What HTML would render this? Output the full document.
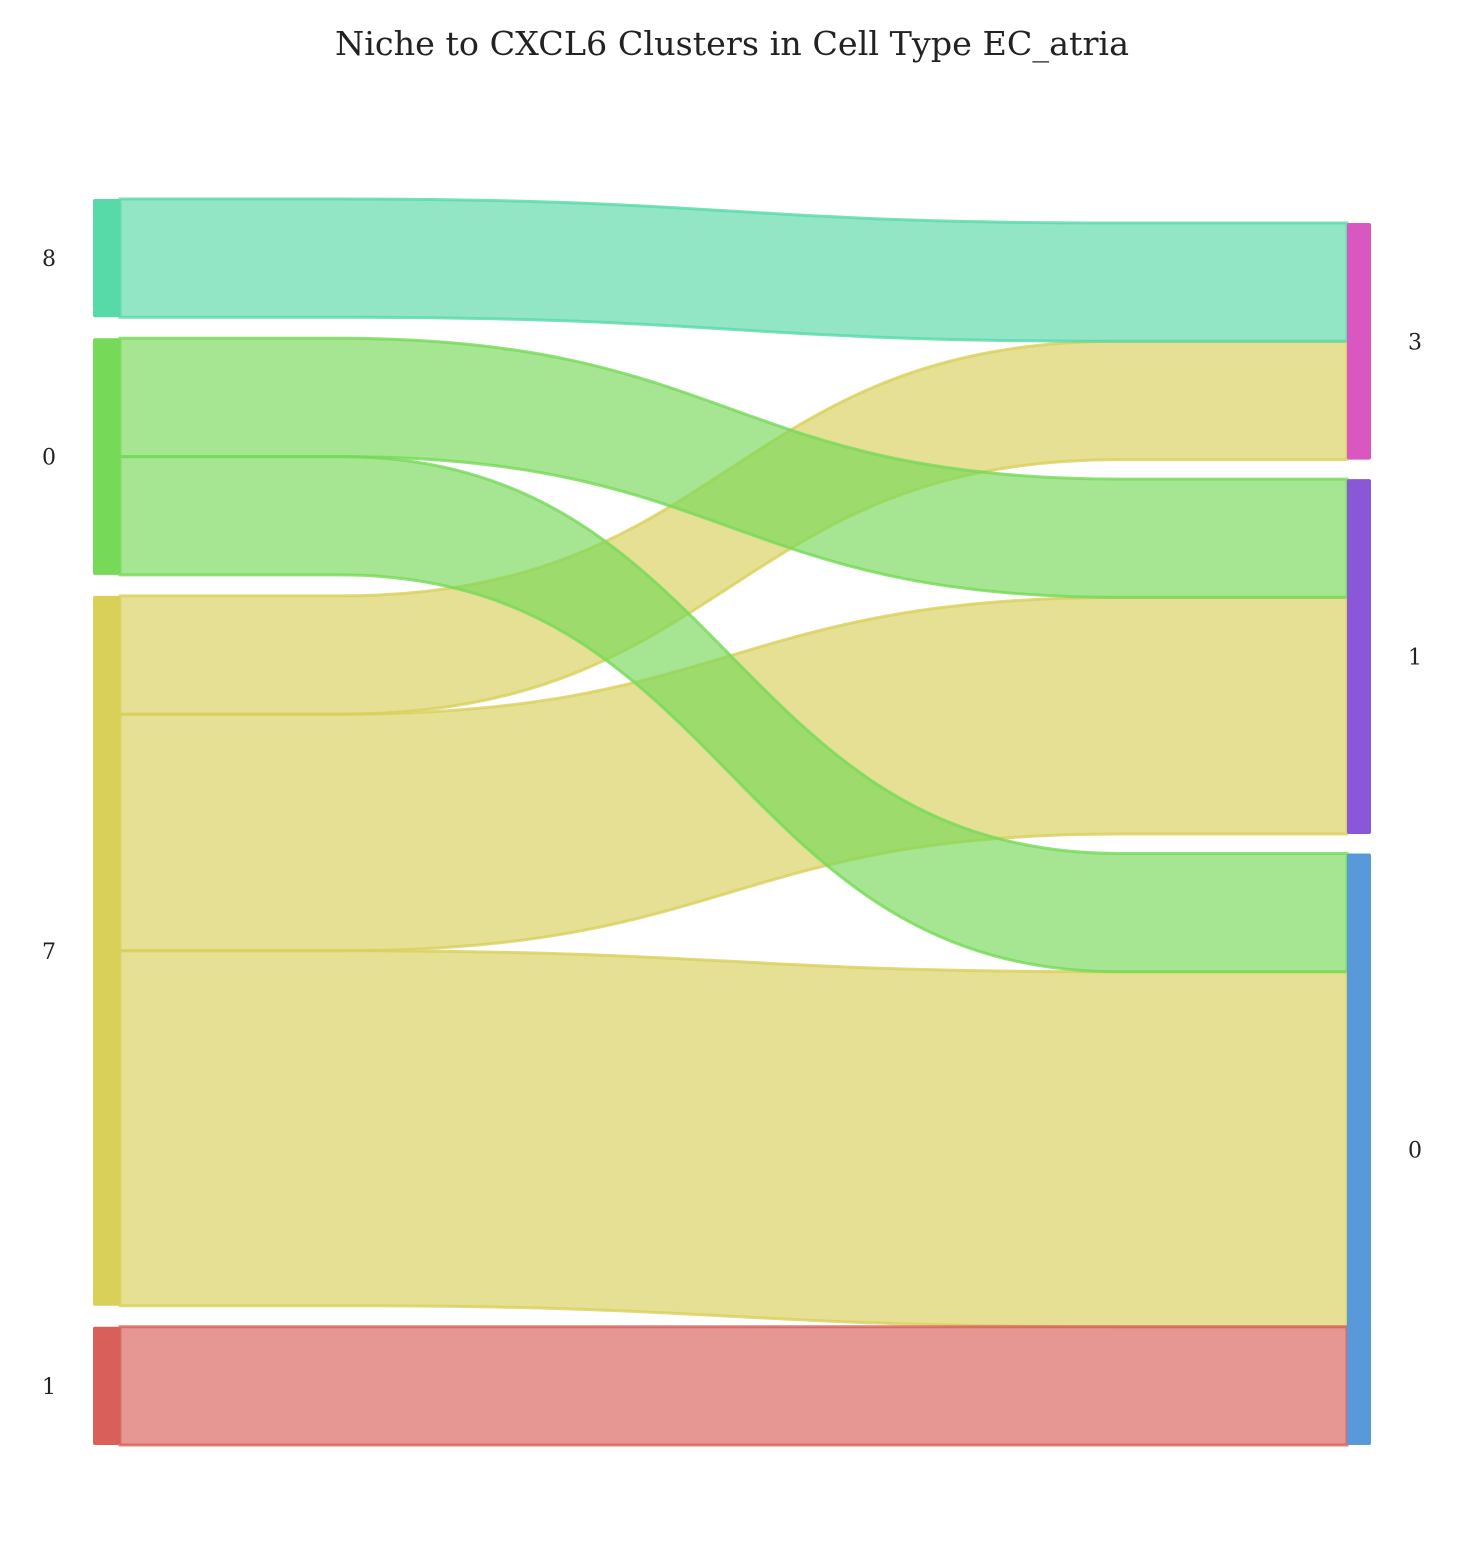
<!DOCTYPE html>
<html><head><meta charset="utf-8"><style>
body{margin:0;background:#fff}
svg text{font-family:"DejaVu Serif","Liberation Serif",serif}
</style></head><body>
<svg id="chart" width="1464" height="1536" viewBox="0 0 1464 1536" xmlns="http://www.w3.org/2000/svg">
<rect width="1464" height="1536" fill="#fff"/>
<text x="732" y="55" text-anchor="middle" font-size="33" fill="#222" textLength="794" lengthAdjust="spacingAndGlyphs">Niche to CXCL6 Clusters in Cell Type EC_atria</text>
<g id="links"></g><g id="nodes"></g>
</svg>
<script>
const leftLabels = ["8","0","7","1"];
const leftColors = ["#58d9a8","#76d957","#d9d05a","#d9605a"];
const rightLabels = ["3","1","0"];
const rightColors = ["#d957c0","#8a57d9","#5799d9"];
const linkSource = [0,1,1,2,2,2,3];
const linkTarget = [0,1,2,0,1,2,2];
const linkValue = [1,1,1,1,2,3,1];

const NS="http://www.w3.org/2000/svg";
const top0=199, bot=1445, gapL=21, lx=93, nw=27, rx=1347, rw=24;
function sums(n,key){const s=new Array(n).fill(0);linkValue.forEach((v,i)=>s[key[i]]+=v);return s;}
const lv=sums(leftLabels.length,linkSource), rv=sums(rightLabels.length,linkTarget);
const total=lv.reduce((a,b)=>a+b,0);
const u=(bot-top0-gapL*(leftLabels.length-1))/total;
const gapR=19.5;
const rH=total*u+gapR*(rightLabels.length-1);
const rTop=bot-rH;
function layout(vals,start,gap){const ys=[];let y=start;vals.forEach(v=>{ys.push(y);y+=v*u+gap;});return ys;}
const ly=layout(lv,top0,gapL), ry=layout(rv,rTop,gapR);
const rOff=ry.slice();
const gl=document.getElementById('links'), gn=document.getElementById('nodes');
const order=linkValue.map((_,i)=>i);
const byT=order.slice().sort((a,b)=>linkTarget[a]-linkTarget[b]||linkSource[a]-linkSource[b]);
const tY={};byT.forEach(i=>{tY[i]=rOff[linkTarget[i]];rOff[linkTarget[i]]+=linkValue[i]*u;});
const sOff=ly.slice();
const sY={};order.forEach(i=>{sY[i]=sOff[linkSource[i]];sOff[linkSource[i]]+=linkValue[i]*u;});
const drawOrder=order.slice().sort((a,b)=>{const ra=linkSource[a]===2?0:1, rb=linkSource[b]===2?0:1;return ra-rb||a-b;});
drawOrder.forEach(i=>{
  const s=linkSource[i],h=linkValue[i]*u;
  const y0=sY[i], y1=tY[i];
  const x0=lx+nw,x1=rx,a=340,b=1120,m=(a+b)/2;
  const d=`M${x0},${y0}L${a},${y0}C${m},${y0} ${m},${y1} ${b},${y1}L${x1},${y1}L${x1},${y1+h}L${b},${y1+h}C${m},${y1+h} ${m},${y0+h} ${a},${y0+h}L${x0},${y0+h}Z`;
  const p=document.createElementNS(NS,'path');
  p.setAttribute('d',d);p.setAttribute('fill',leftColors[s]);p.setAttribute('fill-opacity','0.65');
  p.setAttribute('stroke',leftColors[s]);p.setAttribute('stroke-opacity','0.8');p.setAttribute('stroke-width','3');
  
  
  gl.appendChild(p);
});
function node(x,w,y,h,c,lab,tx,side){
  const r=document.createElementNS(NS,'rect');
  r.setAttribute('x',x);r.setAttribute('y',y);r.setAttribute('width',w);r.setAttribute('height',h);r.setAttribute('fill',c);r.setAttribute('rx','2');
  
  
  gn.appendChild(r);
  const t=document.createElementNS(NS,'text');
  t.setAttribute('x',tx);t.setAttribute('y',y+h/2+8);t.setAttribute('font-size','22');t.setAttribute('text-anchor','middle');t.setAttribute('fill','#222');
  t.textContent=lab;
  
  
  gn.appendChild(t);
}
leftLabels.forEach((l,i)=>node(lx,nw,ly[i],lv[i]*u,leftColors[i],l,49,'left'));
rightLabels.forEach((l,i)=>node(rx,rw,ry[i],rv[i]*u,rightColors[i],l,1415,'right'));
</script>
</body></html>
